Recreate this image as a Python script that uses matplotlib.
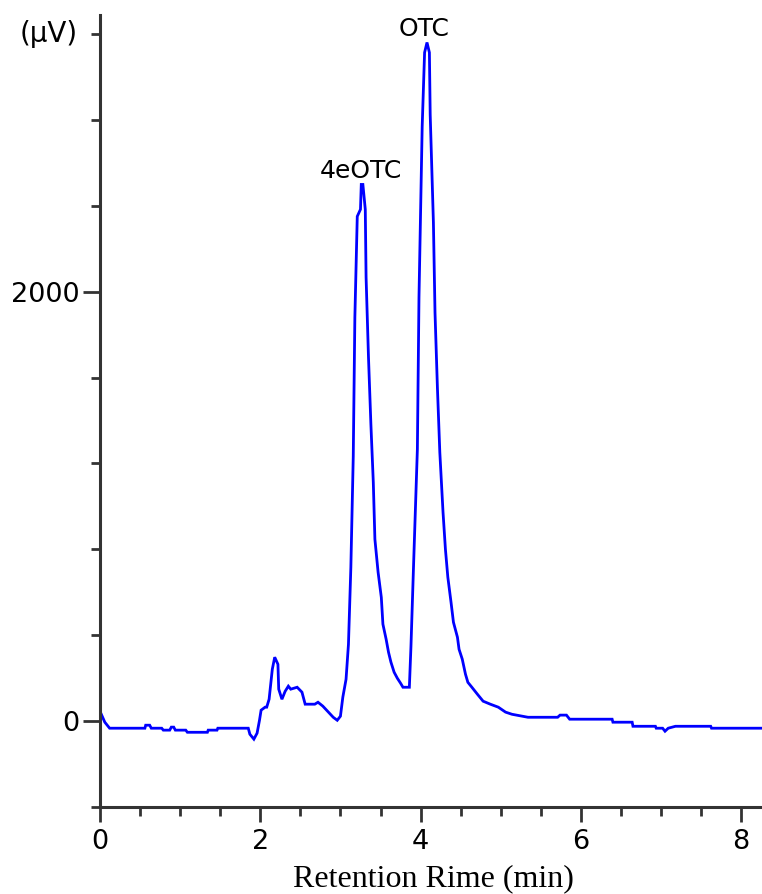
import matplotlib
matplotlib.use("Agg")
import matplotlib.pyplot as plt
import numpy as np

# chromatogram trace (time in min, signal in uV)
time_min = [0.00, 0.06, 0.12, 0.56, 0.57, 0.62, 0.64, 0.77, 0.79, 0.87,
            0.89, 0.92, 0.94, 1.07, 1.09, 1.34, 1.35, 1.46, 1.47, 1.85,
            1.87, 1.92, 1.96, 1.99, 2.01, 2.06, 2.08, 2.11, 2.15, 2.18,
            2.22, 2.23, 2.27, 2.31, 2.35, 2.38, 2.46, 2.52, 2.56, 2.68,
            2.72, 2.78, 2.85, 2.91, 2.96, 3.00, 3.03, 3.07, 3.10, 3.13,
            3.16, 3.18, 3.21, 3.25, 3.26, 3.28, 3.31, 3.32, 3.35, 3.38,
            3.41, 3.43, 3.47, 3.51, 3.53, 3.57, 3.60, 3.63, 3.67, 3.71,
            3.75, 3.78, 3.86, 3.88, 3.91, 3.96, 3.98, 4.02, 4.05, 4.08,
            4.11, 4.12, 4.16, 4.18, 4.21, 4.24, 4.28, 4.31, 4.34, 4.38,
            4.41, 4.46, 4.48, 4.52, 4.56, 4.59, 4.64, 4.71, 4.78, 4.87,
            4.97, 5.06, 5.14, 5.34, 5.71, 5.74, 5.82, 5.86, 6.39, 6.40,
            6.64, 6.65, 6.93, 6.94, 7.02, 7.05, 7.09, 7.18, 7.62, 7.63,
            8.26]
signal_uv = [44, -7, -35, -35, -21, -21, -35, -35, -44, -44,
             -30, -30, -44, -44, -54, -54, -44, -44, -35, -35,
             -63, -86, -58, 2, 49, 63, 63, 100, 240, 296,
             263, 147, 100, 137, 161, 147, 156, 133, 77, 77,
             86, 68, 40, 16, 2, 21, 110, 193, 356, 715,
             1233, 1880, 2351, 2384, 2500, 2500, 2384, 2067, 1694, 1382,
             1112, 846, 692, 575, 450, 380, 319, 273, 226, 198,
             175, 156, 156, 347, 697, 1266, 1974, 2770, 3115, 3162,
             3115, 2826, 2323, 1903, 1553, 1251, 972, 799, 669, 552,
             459, 389, 333, 287, 217, 179, 156, 123, 91, 77,
             63, 40, 30, 16, 16, 26, 26, 7, 7, -7,
             -7, -26, -26, -35, -35, -49, -35, -26, -26, -35,
             -35]

peak_names = ["4eOTC", "OTC"]
peak_times = [3.27, 4.08]

x_major = [0, 2, 4, 6, 8]
y_major = [0, 2000]
y_unit_pos = 3200

t = np.array(time_min)
s = np.array(signal_uv)

fig = plt.figure(figsize=(7.62, 8.94), dpi=100)
ax = fig.add_axes([100 / 762, 87.5 / 894, 662 / 762, 791.5 / 894])

ax.plot(t, s, color="#0000ff", lw=2.0, solid_joinstyle="miter")

for name, pt in zip(peak_names, peak_times):
    # peak height taken from the trace itself
    h = s[np.abs(t - pt) < 0.05].max()
    ax.annotate(name, (pt, h), xytext=(-2 if name == "OTC" else -1, 5),
                textcoords="offset points", ha="center", va="baseline",
                fontsize=18, color="black")

ax.set_xlim(0, 8.26)
ax.set_ylim(-400, 3290)

ax.set_xticks(x_major)
ax.set_xticks(np.arange(0, 8.3, 0.5), minor=True)
ax.set_yticks(y_major)
ax.set_yticks(np.arange(-400, 3300, 400), minor=True)

for side in ["top", "right"]:
    ax.spines[side].set_visible(False)
for side in ["left", "bottom"]:
    ax.spines[side].set_color("#333333")
    ax.spines[side].set_linewidth(2.2)

ax.tick_params(which="major", length=12, width=2, color="#333333",
               labelsize=19.5, pad=3)
ax.tick_params(which="minor", length=6.5, width=2, color="#333333")
ax.tick_params(axis="x", which="major", length=11, pad=5)

ax.annotate("(\u00b5V)", xy=(0, y_unit_pos), xycoords=("axes fraction", "data"),
            xytext=(-16, 0), textcoords="offset points",
            ha="right", va="center", fontsize=20)

fig.text(433 / 762, 8 / 894, "Retention Rime (min)", ha="center",
         va="baseline", fontsize=23, family="Liberation Serif")

fig.savefig("out.png", dpi=100)
